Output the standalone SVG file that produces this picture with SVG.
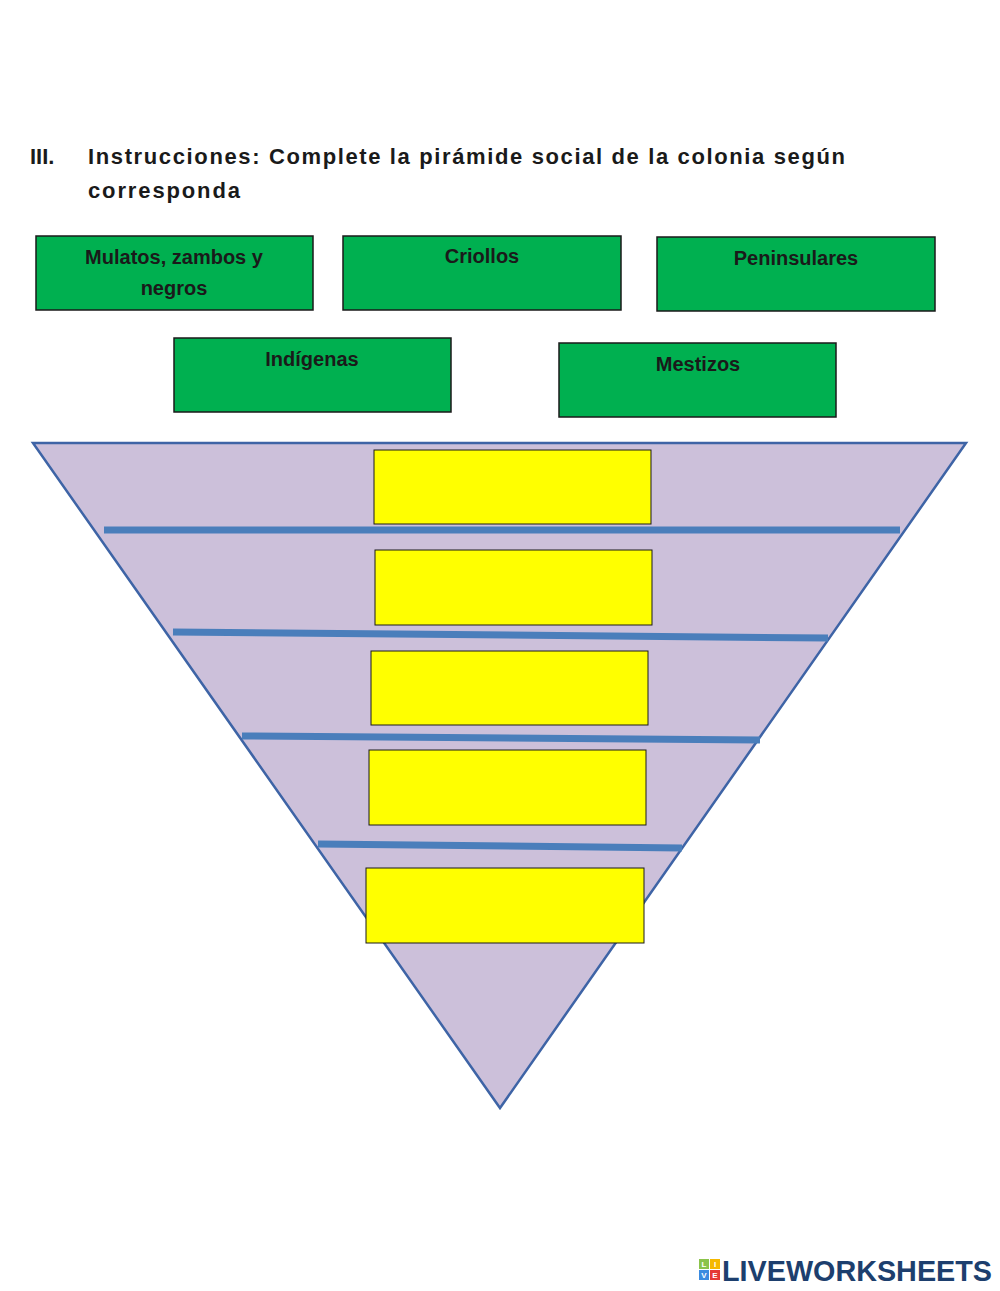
<svg xmlns="http://www.w3.org/2000/svg" width="1000" height="1291" viewBox="0 0 1000 1291">
<style>
text{font-family:"Liberation Sans",Arial,sans-serif;font-weight:bold;fill:#1a1a1a}
.t{font-size:22px}
.l{font-size:20px;text-anchor:middle}
.g{fill:#00b050;stroke:#1a1a1a;stroke-width:1.5}
.y{fill:#ffff00;stroke:#1a1a1a;stroke-width:1}
.bar{stroke:#4a7ebb;stroke-width:7}
</style>
<rect width="1000" height="1291" fill="#fff"/>
<text class="t" x="30" y="164">III.</text>
<text class="t" x="88" y="164" textLength="757" lengthAdjust="spacing">Instrucciones: Complete  la pirámide social de la colonia según</text>
<text class="t" x="88" y="198" textLength="152" lengthAdjust="spacing">corresponda</text>
<g id="mulatos"><rect class="g" x="36" y="236" width="277" height="74"/><text class="l" x="174" y="264">Mulatos, zambos y</text><text class="l" x="174" y="295">negros</text></g>
<g id="criollos"><rect class="g" x="343" y="236" width="278" height="74"/><text class="l" x="482" y="263">Criollos</text></g>
<g id="peninsulares"><rect class="g" x="657" y="237" width="278" height="74"/><text class="l" x="796" y="265">Peninsulares</text></g>
<g id="indigenas"><rect class="g" x="174" y="338" width="277" height="74"/><text class="l" x="312" y="366">Indígenas</text></g>
<g id="mestizos"><rect class="g" x="559" y="343" width="277" height="74"/><text class="l" x="698" y="371">Mestizos</text></g>
<g id="pyramid"><polygon points="33,443 966,443 500,1108" fill="#ccc0da" stroke="#3e64a6" stroke-width="2.5"/></g>
<g id="connectors">
<line class="bar" x1="104" y1="530" x2="900" y2="530"/>
<line class="bar" x1="173" y1="632" x2="828" y2="638"/>
<line class="bar" x1="242" y1="736" x2="760" y2="740"/>
<line class="bar" x1="318" y1="844" x2="682" y2="848"/>
</g>
<g id="slot1"><rect class="y" x="374" y="450" width="277" height="74"/></g>
<g id="slot2"><rect class="y" x="375" y="550" width="277" height="75"/></g>
<g id="slot3"><rect class="y" x="371" y="651" width="277" height="74"/></g>
<g id="slot4"><rect class="y" x="369" y="750" width="277" height="75"/></g>
<g id="slot5"><rect class="y" x="366" y="868" width="278" height="75"/></g>
<g id="logo">
<rect x="699" y="1259" width="10" height="10" fill="#8bc34a"/><rect x="710" y="1259" width="10" height="10" fill="#f5b800"/>
<rect x="699" y="1270" width="10" height="10" fill="#3b8be0"/><rect x="710" y="1270" width="10" height="10" fill="#e53935"/>
<text x="704" y="1267" font-size="8" text-anchor="middle" style="fill:#fff">L</text><text x="715" y="1267" font-size="8" text-anchor="middle" style="fill:#fff">I</text>
<text x="704" y="1278" font-size="8" text-anchor="middle" style="fill:#fff">V</text><text x="715" y="1278" font-size="8" text-anchor="middle" style="fill:#fff">E</text>
<text x="722" y="1281" font-size="29" textLength="270" lengthAdjust="spacingAndGlyphs" style="fill:#1d3f6e">LIVEWORKSHEETS</text>
</g>
</svg>
